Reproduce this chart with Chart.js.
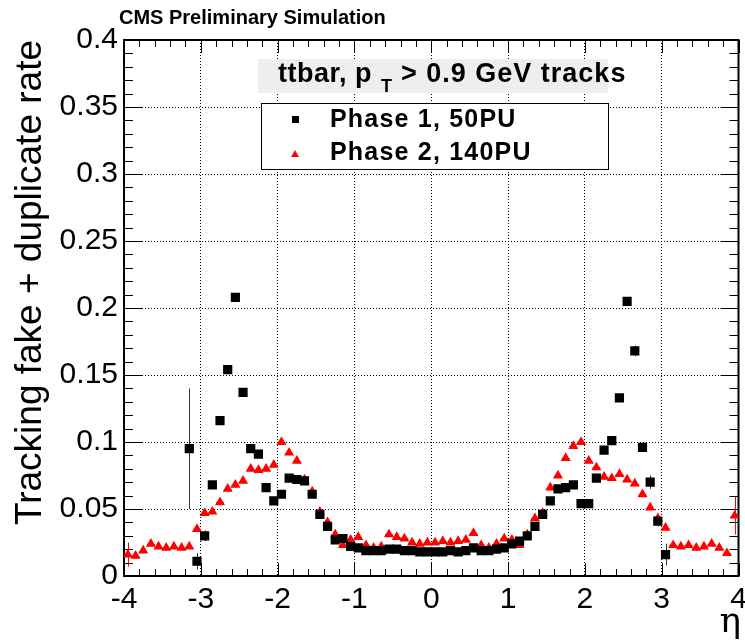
<!DOCTYPE html>
<html>
<head>
<meta charset="utf-8">
<script src="https://cdn.jsdelivr.net/npm/chart.js@4"></script>
<style>
  body { margin: 0; background: #fff; }
  canvas { display: block; }
</style>
</head>
<body>
<canvas id="fakeRate" width="745" height="643"></canvas>
<script>
// Phase 1 (50 PU): bin centres in eta, rate and stat error
const etaP1 = [
  -3.15, -3.05, -2.95, -2.85, -2.75, -2.65, -2.55, -2.45, -2.35, -2.25,
  -2.15, -2.05, -1.95, -1.85, -1.75, -1.65, -1.55, -1.45, -1.35, -1.25,
  -1.15, -1.05, -0.95, -0.85, -0.75, -0.65, -0.55, -0.45, -0.35, -0.25,
  -0.15, -0.05, 0.05, 0.15, 0.25, 0.35, 0.45, 0.55, 0.65, 0.75,
  0.85, 0.95, 1.05, 1.15, 1.25, 1.35, 1.45, 1.55, 1.65, 1.75,
  1.85, 1.95, 2.05, 2.15, 2.25, 2.35, 2.45, 2.55, 2.65, 2.75,
  2.85, 2.95, 3.05
];
const rateP1 = [
  0.095, 0.011, 0.030, 0.068, 0.116, 0.154, 0.208, 0.137, 0.095, 0.091,
  0.066, 0.056, 0.061, 0.073, 0.072, 0.071, 0.061, 0.046, 0.037, 0.027,
  0.028, 0.022, 0.021, 0.019, 0.019, 0.019, 0.020, 0.020, 0.019, 0.019,
  0.018, 0.018, 0.018, 0.018, 0.019, 0.018, 0.019, 0.021, 0.019, 0.019,
  0.020, 0.021, 0.024, 0.026, 0.030, 0.037, 0.046, 0.056, 0.065, 0.066,
  0.068, 0.054, 0.054, 0.073, 0.094, 0.101, 0.133, 0.205, 0.168, 0.096,
  0.070, 0.041, 0.016
];
const errP1 = [
  0.045, 0.006, 0.004, 0.002, 0.003, 0.003, 0.003, 0.002, 0.002, 0.002,
  0.002, 0.002, 0.002, 0.002, 0.002, 0.002, 0.002, 0.001, 0.001, 0.001,
  0.001, 0.001, 0.001, 0.001, 0.001, 0.001, 0.001, 0.001, 0.001, 0.001,
  0.001, 0.001, 0.001, 0.001, 0.001, 0.001, 0.001, 0.001, 0.001, 0.001,
  0.001, 0.001, 0.001, 0.001, 0.001, 0.001, 0.001, 0.002, 0.002, 0.002,
  0.002, 0.002, 0.002, 0.002, 0.002, 0.002, 0.002, 0.003, 0.004, 0.003,
  0.005, 0.004, 0.008
];

// Phase 2 (140 PU)
const etaP2 = [
  -3.95, -3.85, -3.75, -3.65, -3.55, -3.45, -3.35, -3.25, -3.15, -3.05,
  -2.95, -2.85, -2.75, -2.65, -2.55, -2.45, -2.35, -2.25, -2.15, -2.05,
  -1.95, -1.85, -1.75, -1.65, -1.55, -1.45, -1.35, -1.25, -1.15, -1.05,
  -0.95, -0.85, -0.75, -0.65, -0.55, -0.45, -0.35, -0.25, -0.15, -0.05,
  0.05, 0.15, 0.25, 0.35, 0.45, 0.55, 0.65, 0.75, 0.85, 0.95,
  1.05, 1.15, 1.25, 1.35, 1.45, 1.55, 1.65, 1.75, 1.85, 1.95,
  2.05, 2.15, 2.25, 2.35, 2.45, 2.55, 2.65, 2.75, 2.85, 2.95,
  3.05, 3.15, 3.25, 3.35, 3.45, 3.55, 3.65, 3.75, 3.85, 3.95
];
const rateP2 = [
  0.016, 0.015, 0.019, 0.024, 0.022, 0.021, 0.022, 0.021, 0.022, 0.035,
  0.047, 0.048, 0.055, 0.065, 0.068, 0.071, 0.080, 0.079, 0.080, 0.083,
  0.100, 0.092, 0.086, 0.072, 0.063, 0.048, 0.040, 0.031, 0.023, 0.027,
  0.029, 0.023, 0.021, 0.022, 0.031, 0.029, 0.028, 0.025, 0.024, 0.025,
  0.025, 0.026, 0.025, 0.026, 0.027, 0.032, 0.023, 0.021, 0.024, 0.028,
  0.027, 0.023, 0.031, 0.043, 0.047, 0.066, 0.075, 0.088, 0.097, 0.100,
  0.086, 0.081, 0.074, 0.073, 0.076, 0.072, 0.069, 0.061, 0.051, 0.043,
  0.036, 0.023, 0.022, 0.023, 0.021, 0.022, 0.024, 0.021, 0.017, 0.045
];
const errP2 = [
  0.009, 0.002, 0.002, 0.002, 0.002, 0.002, 0.002, 0.002, 0.002, 0.002,
  0.002, 0.002, 0.002, 0.002, 0.002, 0.002, 0.002, 0.002, 0.002, 0.002,
  0.002, 0.002, 0.002, 0.002, 0.002, 0.001, 0.001, 0.001, 0.001, 0.001,
  0.001, 0.001, 0.001, 0.001, 0.001, 0.001, 0.001, 0.001, 0.001, 0.001,
  0.001, 0.001, 0.001, 0.001, 0.001, 0.001, 0.001, 0.001, 0.001, 0.001,
  0.001, 0.001, 0.001, 0.001, 0.001, 0.002, 0.002, 0.002, 0.002, 0.002,
  0.002, 0.002, 0.002, 0.002, 0.002, 0.002, 0.002, 0.002, 0.002, 0.002,
  0.002, 0.002, 0.002, 0.002, 0.002, 0.002, 0.002, 0.002, 0.002, 0.014
];

const etaTicks = [-4, -3, -2, -1, 0, 1, 2, 3, 4];
const etaTickLabels = ['-4', '-3', '-2', '-1', '0', '1', '2', '3', '4'];
const rateTicks = [0, 0.05, 0.1, 0.15, 0.2, 0.25, 0.3, 0.35, 0.4];
const rateTickLabels = ['0', '0.05', '0.1', '0.15', '0.2', '0.25', '0.3', '0.35', '0.4'];

const FONT = '"Liberation Sans", Arial, Helvetica, sans-serif';
const BIN_HALF = 0.05;

const toPoints = (xs, ys) => xs.map((x, i) => ({ x: x, y: ys[i] }));

// ROOT style frame with inward ticks on all four sides
const frameTicks = {
  id: 'frameTicks',
  beforeDatasetsDraw(chart) {
    const { ctx, chartArea: a, scales } = chart;
    const xs = scales.x, ys = scales.y;
    ctx.save();
    ctx.strokeStyle = '#000';
    ctx.lineWidth = 1;
    ctx.beginPath();
    // x ticks: major every 1, minor every 0.2
    for (let k = 0; k <= 40; k++) {
      const v = -4 + k * 0.2;
      const px = Math.round(xs.getPixelForValue(v)) + 0.5;
      const len = k % 5 === 0 ? 13 : 7;
      ctx.moveTo(px, a.bottom); ctx.lineTo(px, a.bottom - len);
      ctx.moveTo(px, a.top); ctx.lineTo(px, a.top + len);
    }
    // y ticks: major every 0.05, minor every 0.01
    for (let k = 0; k <= 40; k++) {
      const v = k * 0.01;
      const py = Math.round(ys.getPixelForValue(v)) + 0.5;
      const len = k % 5 === 0 ? 18 : 9;
      ctx.moveTo(a.left, py); ctx.lineTo(a.left + len, py);
      ctx.moveTo(a.right, py); ctx.lineTo(a.right - len, py);
    }
    ctx.stroke();
    ctx.lineWidth = 2;
    ctx.strokeRect(a.left, a.top, a.right - a.left, a.bottom - a.top);
    ctx.restore();
  }
};

// vertical stat errors and bin-width bars, drawn under the markers
const errorBars = {
  id: 'errorBars',
  beforeDatasetsDraw(chart) {
    const { ctx, scales } = chart;
    const sets = [
      { xs: etaP1, ys: rateP1, es: errP1, color: '#333' },
      { xs: etaP2, ys: rateP2, es: errP2, color: '#ff0000' }
    ];
    ctx.save();
    ctx.lineWidth = 1;
    sets.forEach(s => {
      ctx.strokeStyle = s.color;
      ctx.beginPath();
      s.xs.forEach((x, i) => {
        const px = Math.round(scales.x.getPixelForValue(x)) + 0.5;
        const py = scales.y.getPixelForValue(s.ys[i]);
        ctx.moveTo(px, scales.y.getPixelForValue(s.ys[i] - s.es[i]));
        ctx.lineTo(px, scales.y.getPixelForValue(s.ys[i] + s.es[i]));
        ctx.moveTo(scales.x.getPixelForValue(x - BIN_HALF), Math.round(py) + 0.5);
        ctx.lineTo(scales.x.getPixelForValue(x + BIN_HALF), Math.round(py) + 0.5);
      });
      ctx.stroke();
    });
    ctx.restore();
  }
};

// header, legend box and the free text labels
const annotations = {
  id: 'annotations',
  afterDraw(chart) {
    const { ctx } = chart;
    ctx.save();
    ctx.textBaseline = 'alphabetic';
    ctx.fillStyle = '#000';

    ctx.font = 'bold 20px ' + FONT;
    ctx.fillText('CMS Preliminary Simulation', 119, 24);

    // sample header
    ctx.fillStyle = '#eeeeee';
    ctx.fillRect(258, 59, 350, 34);
    ctx.fillStyle = '#000';
    ctx.font = 'bold 27px ' + FONT;
    ctx.letterSpacing = '0.5px';
    ctx.fillText('ttbar, p', 278, 82);
    ctx.font = 'bold 18px ' + FONT;
    ctx.fillText('T', 381, 92);
    ctx.font = 'bold 27px ' + FONT;
    ctx.letterSpacing = '1px';
    ctx.fillText('> 0.9 GeV tracks', 401, 82);

    // legend
    ctx.letterSpacing = '0px';
    ctx.fillStyle = '#fff';
    ctx.fillRect(261, 103, 347, 66);
    ctx.strokeStyle = '#000';
    ctx.lineWidth = 1;
    ctx.strokeRect(261.5, 103.5, 347, 66);
    ctx.fillStyle = '#000';
    ctx.fillRect(292, 116, 7, 7);
    ctx.fillStyle = '#ff0000';
    ctx.beginPath();
    ctx.moveTo(295, 150); ctx.lineTo(299, 157); ctx.lineTo(291, 157);
    ctx.closePath(); ctx.fill();
    ctx.fillStyle = '#000';
    ctx.font = 'bold 25px ' + FONT;
    ctx.letterSpacing = '1.2px';
    ctx.fillText('Phase 1, 50PU', 330, 127);
    ctx.fillText('Phase 2, 140PU', 330, 160);

    // axis symbol
    ctx.letterSpacing = '0px';
    ctx.font = '36px "DejaVu Serif", "Liberation Serif", serif';
    ctx.textAlign = 'right';
    ctx.fillText('\u03b7', 741, 632);
    ctx.restore();
  }
};

new Chart(document.getElementById('fakeRate'), {
  type: 'scatter',
  data: {
    datasets: [
      {
        label: 'Phase 1, 50PU',
        data: toPoints(etaP1, rateP1),
        pointStyle: 'rect',
        pointRadius: 6.5,
        backgroundColor: '#000',
        borderColor: '#000',
        borderWidth: 0
      },
      {
        label: 'Phase 2, 140PU',
        data: toPoints(etaP2, rateP2),
        pointStyle: 'triangle',
        pointRadius: 5.8,
        backgroundColor: '#ff0000',
        borderColor: '#ff0000',
        borderWidth: 0
      }
    ]
  },
  options: {
    responsive: false,
    animation: false,
    devicePixelRatio: 1,
    layout: { padding: { top: 40, right: 4, bottom: 0, left: 0 } },
    plugins: {
      legend: { display: false },
      tooltip: { enabled: false }
    },
    scales: {
      x: {
        type: 'linear',
        min: -4,
        max: 4,
        afterBuildTicks: s => { s.ticks = etaTicks.map(v => ({ value: v })); },
        afterFit: s => {
          s.height = 67;
          s.paddingLeft = 0; s.paddingRight = 0;
        },
        ticks: {
          color: '#000',
          font: { family: FONT, size: 30 },
          padding: 6,
          maxRotation: 0,
          autoSkip: false,
          callback: (v, i) => etaTickLabels[i]
        },
        grid: { color: '#000', lineWidth: 1, drawTicks: false },
        border: { display: false, dash: [1, 2] }
      },
      y: {
        type: 'linear',
        min: 0,
        max: 0.4,
        afterBuildTicks: s => { s.ticks = rateTicks.map(v => ({ value: v })); },
        afterFit: s => {
          s.width = 124;
          s.paddingTop = 0; s.paddingBottom = 0;
        },
        ticks: {
          color: '#000',
          font: { family: FONT, size: 30 },
          padding: 6,
          autoSkip: false,
          callback: (v, i) => rateTickLabels[i]
        },
        title: {
          display: true,
          text: 'Tracking fake + duplicate rate',
          align: 'end',
          color: '#000',
          font: { family: FONT, size: 37 },
          padding: { top: 9, bottom: 0 }
        },
        grid: { color: '#000', lineWidth: 1, drawTicks: false },
        border: { display: false, dash: [1, 2] }
      }
    }
  },
  plugins: [frameTicks, errorBars, annotations]
});
</script>
</body>
</html>
